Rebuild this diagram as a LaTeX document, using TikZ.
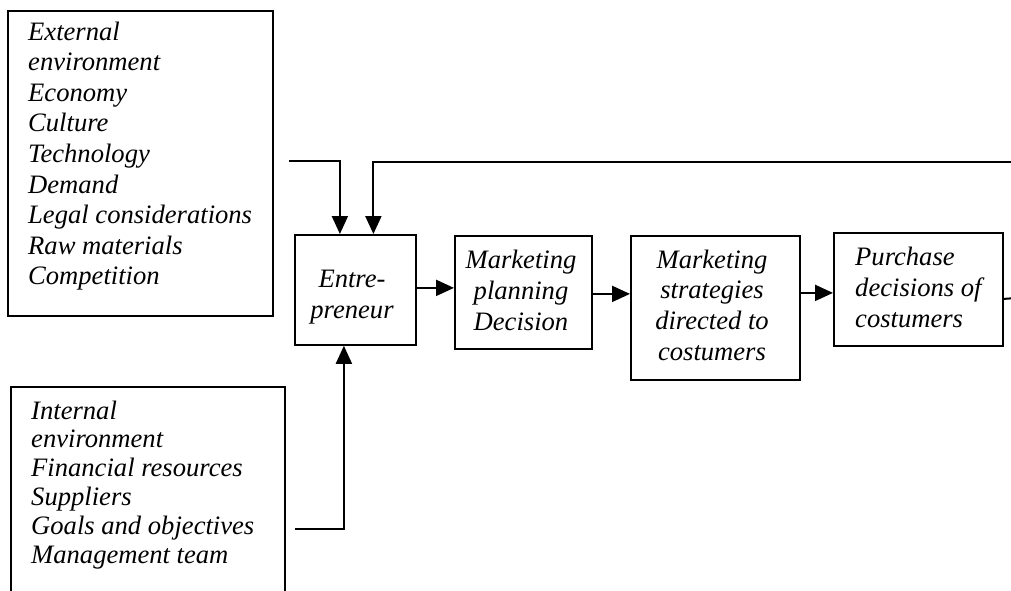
\documentclass[tikz,border=0pt]{standalone}
\usepackage{fontspec}
\setmainfont{Liberation Serif}
\usetikzlibrary{arrows.meta}
\newcommand\leftlines[2]{\vtop{\baselineskip=#1\relax\lineskiplimit=-100pt\halign{##\hfil\cr#2\crcr}}}
\newcommand\centerlines[2]{\vtop{\baselineskip=#1\relax\lineskiplimit=-100pt\halign{\hfil##\hfil\cr#2\crcr}}}
\begin{document}
\begin{tikzpicture}[x=1pt,y=-1pt,
  box/.style={draw, line width=1.8pt, inner sep=0pt, anchor=north west},
  arr/.style={line width=2pt, -{Triangle[length=18pt,width=16pt]}},
  conn/.style={line width=2pt},
  txt/.style={font=\fontsize{26.6}{30.6}\selectfont\itshape, inner sep=0pt}]
\useasboundingbox (0,0) rectangle (1011,590);
\clip (0,0) rectangle (1011,590);
% boxes
\node[box, minimum width=265pt, minimum height=305pt] (ext) at (7,10) {};
\node[box, minimum width=274pt, minimum height=240pt] (int) at (10,386) {};
\node[box, minimum width=121pt, minimum height=110pt] (ent) at (294,234) {};
\node[box, minimum width=137pt, minimum height=113pt] (mp) at (454,235) {};
\node[box, minimum width=169pt, minimum height=144pt] (ms) at (630,235) {};
\node[box, minimum width=169pt, minimum height=113pt] (pd) at (833,232) {};
% texts
\node[txt, anchor=base west] (extt) at (28,40) {\leftlines{30.6pt}{External\cr environment\cr Economy\cr Culture\cr Technology\cr Demand\cr Legal considerations\cr Raw materials\cr Competition}};
\node[txt, anchor=base west] (intt) at (31,419) {\leftlines{28.8pt}{Internal\cr environment\cr Financial resources\cr Suppliers\cr Goals and objectives\cr Management team}};
\node[txt, anchor=base] (entt) at (352,287) {\centerlines{31pt}{Entre-\cr preneur}};
\node[txt, anchor=base] (mpt) at (521,268) {\centerlines{31pt}{Marketing\cr planning\cr Decision}};
\node[txt, anchor=base] (mst) at (712,268) {\centerlines{30.7pt}{Marketing\cr strategies\cr directed to\cr costumers}};
\node[txt, anchor=base west] (pdt) at (855,265) {\leftlines{31pt}{Purchase\cr decisions of\cr costumers}};
% connectors
\coordinate (e1) at (289,161);
\coordinate (fb) at (1016,162);
\coordinate (i1) at (295,529);
\coordinate (pe) at (1016,298);
\draw[arr] (e1) -| ([xshift=-15.5pt]ent.north);
\draw[arr] (fb) -| ([xshift=18pt]ent.north);
\draw[arr] (i1) -| ([xshift=-11.5pt]ent.south);
\draw[arr] ([yshift=2pt]ent.east) -- ([yshift=2pt]ent.east -| mp.west);
\draw[arr] ([yshift=-1.5pt]mp.east) -- ([yshift=-1.5pt]mp.east -| ms.west);
\draw[arr] ([yshift=15pt]ms.east) -- ([yshift=15pt]ms.east -| pd.west);
\draw[conn] ([yshift=-9.5pt]pd.east) -- (pe);
\end{tikzpicture}
\end{document}
